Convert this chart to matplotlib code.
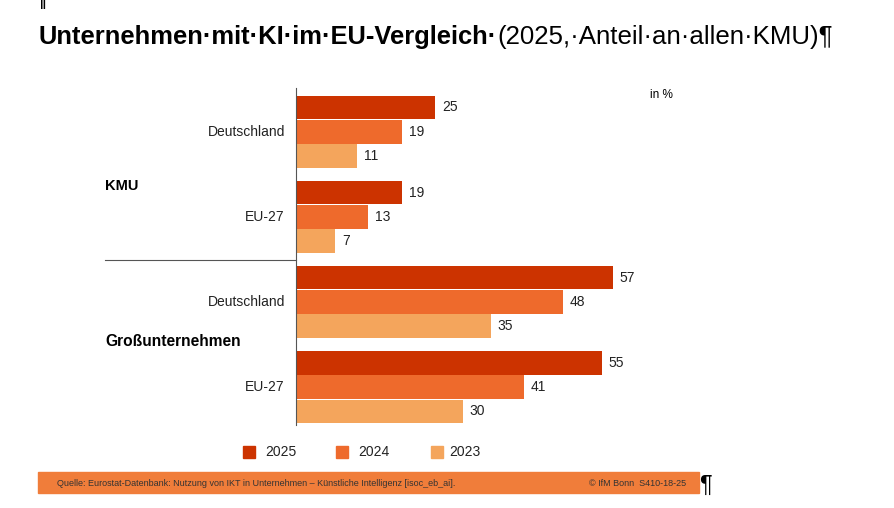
import matplotlib
matplotlib.use("Agg")
import matplotlib.pyplot as plt
from matplotlib.patches import Rectangle

plt.rcParams['font.family'] = ['Liberation Sans', 'DejaVu Sans']

groups = ['KMU', 'Großunternehmen']
countries = ['Deutschland', 'EU-27', 'Deutschland', 'EU-27']
years = ['2025', '2024', '2023']
v2025 = [25, 19, 57, 55]
v2024 = [19, 13, 48, 41]
v2023 = [11, 7, 35, 30]
colors = ['#CC3300', '#EE6A2C', '#F4A55C']

W, H = 894, 508
fig = plt.figure(figsize=(W / 100, H / 100), dpi=100)


def px(x, y):
    return x / W, 1 - y / H


# axes: left edge at 296px, top 88px, bottom 425px
l, t, r, b = 296, 88, 700, 425
ax = fig.add_axes([l / W, 1 - b / H, (r - l) / W, (b - t) / H])
scale = 139 / 25.0
ax.set_xlim(0, (r - l) / scale)
step = 3.5
ax.set_ylim(3 * step + 1.56, -1.8)

for g in range(4):
    for k, vals in enumerate([v2025, v2024, v2023]):
        yy = g * step + (k - 1)
        ax.barh(yy, vals[g], height=0.97, color=colors[k], edgecolor='none')
        ax.text(vals[g] + 7 / scale, yy, str(vals[g]), va='center', ha='left',
                fontsize=10, color='#222222')
    ax.text(-11 / scale, g * step, countries[g], ha='right', va='center',
            fontsize=10, color='#222222')

for s in ['top', 'right', 'bottom']:
    ax.spines[s].set_visible(False)
ax.spines['left'].set_color('#555555')
ax.spines['left'].set_linewidth(0.8)
ax.set_xticks([])
ax.set_yticks([])

# group labels and separator
fig.text(*px(105, 186), groups[0], fontsize=10.5, fontweight='bold', va='center', ha='left')
fig.text(*px(105, 342), groups[1], fontsize=11.2, fontweight='bold', va='center', ha='left')
fig.add_artist(plt.Line2D([105 / W, 296 / W], [1 - 260 / H, 1 - 260 / H],
                          color='#555555', linewidth=0.8))
fig.text(*px(650, 95), 'in %', fontsize=8.5, va='center', ha='left')

# legend
for k, (xs, xt) in enumerate([(243, 265), (336, 358), (431, 449)]):
    fig.add_artist(Rectangle(px(xs, 458), 12 / W, 12 / H,
                             color=colors[k], transform=fig.transFigure))
    fig.text(*px(xt, 452), years[k], fontsize=10, va='center', ha='left', color='#222222')

# title
fig.text(*px(40, 6), '‖', fontsize=9, fontweight='bold', va='center', ha='left')
fig.text(*px(38, 37), 'Unternehmen·mit·KI·im·EU-Vergleich·', fontsize=18.4,
         fontweight='bold', va='center', ha='left')
fig.text(*px(497, 37), '(2025,·Anteil·an·allen·KMU)¶', fontsize=18.6,
         va='center', ha='left')

# footer
fig.add_artist(Rectangle(px(38, 493), (699 - 38) / W, 21 / H, color='#F07D3A',
                         transform=fig.transFigure))
fig.text(*px(57, 483), 'Quelle: Eurostat-Datenbank: Nutzung von IKT in Unternehmen – Künstliche Intelligenz [isoc_eb_ai].',
         fontsize=6.5, va='center', ha='left', color='#333333')
fig.text(*px(686, 483), '© IfM Bonn  S410-18-25', fontsize=6.5, va='center', ha='right',
         color='#333333')
fig.text(*px(699, 486), '¶', fontsize=17, va='center', ha='left')

fig.savefig('out.png', dpi=100)
